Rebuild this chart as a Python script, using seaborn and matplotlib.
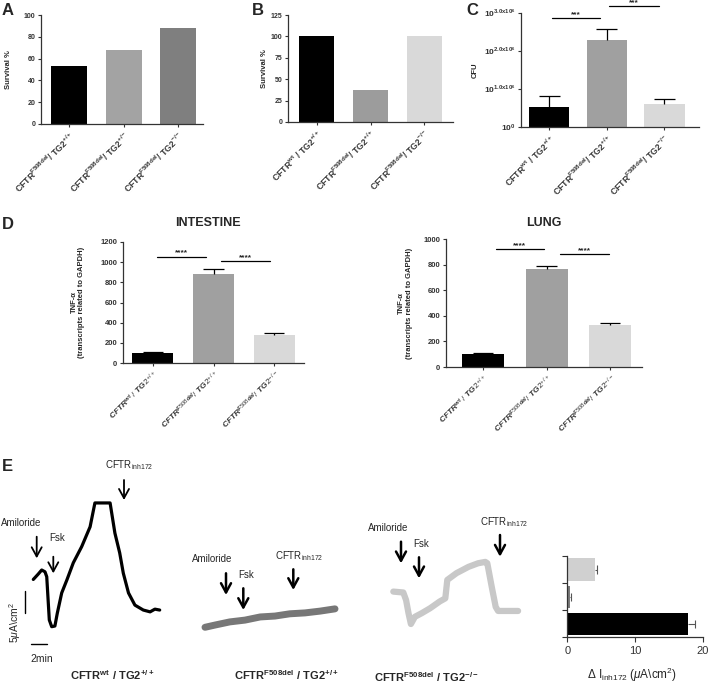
import numpy as np
import pandas as pd
import matplotlib
matplotlib.use('Agg')
import matplotlib.pyplot as plt
import seaborn as sns

# ---------------- data ----------------
groups_A = ['F508del/TG2+/+', 'F508del/TG2+/-', 'F508del/TG2-/-']
survival_A = [53, 68, 88]
labels_A = [r'$\mathbf{CFTR^{F508del}/\ TG2^{+/+}}$',
            r'$\mathbf{CFTR^{F508del}/\ TG2^{+/-}}$',
            r'$\mathbf{CFTR^{F508del}/\ TG2^{-/-}}$']
colors_A = ['#000000', '#a3a3a3', '#7f7f7f']

groups_3 = ['wt/TG2+/+', 'F508del/TG2+/+', 'F508del/TG2-/-']
labels_3 = [r'$\mathbf{CFTR^{wt}\ /\ TG2^{+/+}}$',
            r'$\mathbf{CFTR^{F508del}/\ TG2^{+/+}}$',
            r'$\mathbf{CFTR^{F508del}/\ TG2^{-/-}}$']
labels_3_it = [r'$\mathit{CFTR^{wt}\ /\ TG2^{+/+}}$',
               r'$\mathit{CFTR^{F508del}/\ TG2^{+/+}}$',
               r'$\mathit{CFTR^{F508del}/\ TG2^{-/-}}$']

survival_B = [100, 37, 100]
colors_B = ['#000000', '#9c9c9c', '#d9d9d9']

cfu_C = [0.53, 2.3, 0.61]
cfu_err_C = [0.29, 0.27, 0.12]
cfu_ticklabels = [r'$\mathbf{10^{0}}$', r'$\mathbf{10^{1.0x10^{6}}}$',
                  r'$\mathbf{10^{2.0x10^{6}}}$', r'$\mathbf{10^{3.0x10^{6}}}$']
colors_C = ['#000000', '#a0a0a0', '#d9d9d9']
sig_C = [(0.05, 0.89, 2.86), (1.03, 1.90, 3.18)]

tnf_int = [100, 883, 275]
tnf_int_err = [12, 49, 25]
sig_int = [(0.07, 0.87, 1054), (1.12, 1.93, 1009)]
tnf_lung = [100, 765, 330]
tnf_lung_err = [13, 23, 15]
sig_lung = [(0.2, 0.96, 920), (1.21, 1.98, 880)]
colors_D = ['#000000', '#a0a0a0', '#d9d9d9']

# Ussing chamber traces (time in min, current in uA/cm2)
t_wt = [0, 0.62, 1.05, 1.46, 1.68, 1.8, 2.0, 2.3, 2.7, 3.0, 3.55, 4.2, 5.0, 6.05,
        7.1, 7.7, 9.6, 10.2, 10.8, 11.25, 11.9, 12.7, 13.75, 14.6, 15.2, 15.8]
I_wt = [10.5, 11.7, 12.6, 12.2, 11.1, 7.5, 1.5, 0, 0.15, 3.0, 7.5, 10.4, 14.2, 17.8,
        22.2, 27.5, 27.5, 20.8, 16.4, 11.9, 7.5, 4.8, 3.7, 3.3, 3.9, 3.7]
t_f508 = [0, 1.25, 3.1, 5.0, 6.9, 8.75, 10.6, 12.5, 14.4, 16.25]
I_f508 = [0, 0.5, 1.2, 1.6, 2.3, 2.5, 3.0, 3.2, 3.6, 4.1]
t_ko = [0, 1.25, 1.6, 1.9, 2.2, 2.7, 3.55, 4.6, 5.8, 6.5, 6.75, 7.9, 9.4, 10.6,
        11.5, 11.75, 12.3, 12.8, 13.1, 15.6]
I_ko = [7.2, 7.0, 5.3, 2.4, 0, 1.6, 2.4, 3.5, 5.0, 5.7, 9.8, 11.3, 12.7, 13.5,
        13.8, 13.5, 8.3, 3.8, 2.9, 2.9]

groups_E = ['F508del/TG2-/-', 'F508del/TG2+/+', 'wt/TG2+/+']
dI_E = [4.1, 0.4, 17.9]
dI_err_E = [0.25, 0.1, 1.0]
colors_E = ['#d0d0d0', '#7a7a7a', '#000000']

# ---------------- style ----------------
sns.set_theme(style='ticks')
plt.rcParams['font.family'] = ['Liberation Sans', 'DejaVu Sans']
plt.rcParams['mathtext.fontset'] = 'custom'
plt.rcParams['mathtext.rm'] = 'Liberation Sans'
plt.rcParams['mathtext.bf'] = 'Liberation Sans:bold'
plt.rcParams['mathtext.it'] = 'Liberation Sans:italic:bold'
plt.rcParams['mathtext.sf'] = 'Liberation Sans:italic'
plt.rcParams['axes.linewidth'] = 0.9
plt.rcParams['axes.edgecolor'] = '#333333'
for a in ('xtick', 'ytick'):
    plt.rcParams[f'{a}.major.width'] = 0.8
    plt.rcParams[f'{a}.major.size'] = 2.5
    plt.rcParams[f'{a}.major.pad'] = 1.5
    plt.rcParams[f'{a}.color'] = '#333333'

W, H = 709, 683
fig = plt.figure(figsize=(W / 100, H / 100), dpi=100)


def fx(px):
    return px / W


def fy(py):
    return 1 - py / H


def axpx(l, t, r, b):
    return fig.add_axes([l / W, 1 - b / H, (r - l) / W, (b - t) / H])


def ftext(px, py, s, **kw):
    fig.text(fx(px), fy(py), s, **kw)


def bars(ax, groups, vals, colors, width, labels, lfs=6.3, tfs=5):
    df = pd.DataFrame({'g': groups, 'v': vals})
    sns.barplot(data=df, x='g', y='v', hue='g', palette=colors, legend=False,
                saturation=1, width=width, ax=ax, edgecolor='none', errorbar=None)
    ax.set_xticks(range(len(groups)))
    ax.set_xticklabels(labels, rotation=45, ha='right', rotation_mode='anchor',
                       fontsize=lfs)
    ax.tick_params(axis='y', labelsize=tfs)
    for lab in ax.get_yticklabels():
        lab.set_fontweight('bold')
    ax.set_xlabel('')
    sns.despine(ax=ax)


def errbars(ax, means, errs, half):
    x = np.arange(len(means))
    m = np.array(means)
    e = np.array(errs)
    ax.vlines(x, m, m + e, color='black', lw=0.9)
    ax.hlines(m + e, x - half, x + half, color='black', lw=0.9)


def sig(ax, specs, stars, fs=6):
    for x0, x1, y in specs:
        ax.plot([x0, x1], [y, y], color='black', lw=0.9, clip_on=False)
        ax.text((x0 + x1) / 2, y, stars, ha='center', va='bottom', fontsize=fs,
                fontweight='bold', clip_on=False)


# ---------------- Panel A ----------------
axA = axpx(41, 15, 203, 124)
bars(axA, groups_A, survival_A, colors_A, 0.66, labels_A)
axA.set_xlim(-0.52, 2.45)
axA.set_ylim(0, 100)
axA.set_yticks(range(0, 101, 20))
axA.set_ylabel('Survival %', fontsize=5.5, fontweight='bold')
axA.yaxis.set_label_coords(-0.18, 0.5)

# ---------------- Panel B ----------------
axB = axpx(288, 15, 453, 122)
bars(axB, groups_3, survival_B, colors_B, 0.65, labels_3)
axB.set_xlim(-0.53, 2.53)
axB.set_ylim(0, 125)
axB.set_yticks(range(0, 126, 25))
axB.set_ylabel('Survival %', fontsize=5.5, fontweight='bold')
axB.yaxis.set_label_coords(-0.12, 0.5)

# ---------------- Panel C ----------------
axC = axpx(521, 13, 699, 127)
bars(axC, groups_3, cfu_C, colors_C, 0.7, labels_3)
errbars(axC, cfu_C, cfu_err_C, 0.18)
axC.set_xlim(-0.49, 2.6)
axC.set_ylim(0, 3)
axC.set_yticks([0, 1, 2, 3])
axC.set_yticklabels(cfu_ticklabels, fontsize=6)
axC.set_ylabel('CFU', fontsize=5.5, fontweight='bold')
axC.yaxis.set_label_coords(-0.24, 0.5)
sig(axC, sig_C, '***')

# ---------------- Panel D ----------------
axDi = axpx(123, 242, 304, 363)
bars(axDi, groups_3, tnf_int, colors_D, 0.67, labels_3_it, lfs=6, tfs=5.5)
errbars(axDi, tnf_int, tnf_int_err, 0.165)
axDi.set_xlim(-0.49, 2.49)
axDi.set_ylim(0, 1200)
axDi.set_yticks(range(0, 1201, 200))
axDi.set_ylabel('TNF-α\n(transcripts related to GAPDH)', fontsize=5.5,
                fontweight='bold', linespacing=1.1)
axDi.yaxis.set_label_coords(-0.21, 0.5)
sig(axDi, sig_int, '****')

axDl = axpx(446, 239, 642, 367)
bars(axDl, groups_3, tnf_lung, colors_D, 0.66, labels_3_it, lfs=6, tfs=5.5)
errbars(axDl, tnf_lung, tnf_lung_err, 0.16)
axDl.set_xlim(-0.58, 2.5)
axDl.set_ylim(0, 1000)
axDl.set_yticks(range(0, 1001, 200))
axDl.set_ylabel('TNF-α\n(transcripts related to GAPDH)', fontsize=5.5,
                fontweight='bold', linespacing=1.1)
axDl.yaxis.set_label_coords(-0.17, 0.5)
sig(axDl, sig_lung, '****')

ftext(208, 223, 'INTESTINE', ha='center', va='center', fontsize=9, fontweight='bold')
ftext(544, 223, 'LUNG', ha='center', va='center', fontsize=9, fontweight='bold')

# ---------------- Panel E traces ----------------
PX_MIN, PX_UA = 8.0, 4.5


def trace_ax(l, r, ox, oy, t, I, color, lw):
    ax = axpx(l, 430, r, 670)
    sns.lineplot(x=t, y=I, ax=ax, color=color, lw=lw, sort=False, estimator=None)
    ax.set_xlim((l - ox) / PX_MIN, (r - ox) / PX_MIN)
    ax.set_ylim((oy - 670) / PX_UA, (oy - 430) / PX_UA)
    ax.set_axis_off()
    return ax


ax1 = trace_ax(20, 170, 33.3, 626.7, t_wt, I_wt, 'black', 2.3)
trace_ax(195, 345, 205, 627.3, t_f508, I_f508, '#777777', 5.0)
trace_ax(380, 530, 393.3, 624, t_ko, I_ko, '#c8c8c8', 4.5)

# scale bars (5 uA/cm2, 2 min) in trace-1 data units
ax1.plot([-1.04, -1.04], [2.98, 2.98 + 5], color='black', lw=1.0, clip_on=False)
ax1.plot([-0.33, -0.33 + 2], [-3.84, -3.84], color='black', lw=1.0, clip_on=False)
ftext(15, 623, r'5$\mathsf{\mu}$A\cm$^2$', rotation=90, ha='center', va='center', fontsize=7.5)
ftext(41.7, 658.7, '2min', ha='center', va='center', fontsize=7.5)


def arrow(px, p0, p1, lw):
    ax1.annotate('', xy=(fx(px), fy(p1)), xytext=(fx(px), fy(p0)),
                 xycoords='figure fraction', textcoords='figure fraction',
                 arrowprops=dict(arrowstyle='->,head_length=0.55,head_width=0.3',
                                 lw=lw, color='black', shrinkA=0, shrinkB=0))


inh = r'CFTR$_{\mathrm{inh172}}$'
# trace 1
ftext(0.5, 523, 'Amiloride', ha='left', va='center', fontsize=7)
ftext(56.7, 538.3, 'Fsk', ha='center', va='center', fontsize=7)
ftext(129, 465, inh, ha='center', va='center', fontsize=7)
arrow(36.7, 536.7, 558.3, 1.3)
arrow(53.3, 556.7, 573.3, 1.3)
arrow(124, 480, 500, 1.3)
# trace 2
ftext(212, 559.3, 'Amiloride', ha='center', va='center', fontsize=7)
ftext(245.7, 575, 'Fsk', ha='center', va='center', fontsize=7)
ftext(298.7, 556, inh, ha='center', va='center', fontsize=7)
arrow(226, 573.3, 595, 1.8)
arrow(243.3, 588.3, 610, 1.8)
arrow(293.3, 569.3, 590, 1.8)
# trace 3
ftext(387.8, 528.3, 'Amiloride', ha='center', va='center', fontsize=7)
ftext(421.3, 544, 'Fsk', ha='center', va='center', fontsize=7)
ftext(504, 521.7, inh, ha='center', va='center', fontsize=7)
arrow(401, 541.7, 563.3, 1.8)
arrow(419, 557.3, 578.3, 1.8)
arrow(500, 535, 556.7, 1.8)

ftext(112, 675, labels_3[0], ha='center', va='center', fontsize=8)
ftext(286.7, 675, r'$\mathbf{CFTR^{F508del}\ /\ TG2^{+/+}}$', ha='center', va='center', fontsize=8)
ftext(426.7, 676.7, r'$\mathbf{CFTR^{F508del}\ /\ TG2^{-/-}}$', ha='center', va='center', fontsize=8)

# ---------------- Panel E bar chart ----------------
axE = axpx(567.3, 556, 702.7, 637.3)
dfE = pd.DataFrame({'g': groups_E, 'v': dI_E})
sns.barplot(data=dfE, y='g', x='v', hue='g', palette=colors_E, legend=False,
            saturation=1, width=0.82, orient='h', ax=axE, edgecolor='none', errorbar=None)
yy = np.arange(3)
vv = np.array(dI_E)
ee = np.array(dI_err_E)
axE.hlines(yy, vv, vv + ee, color='#555555', lw=0.8)
axE.vlines(vv + ee, yy - 0.15, yy + 0.15, color='#555555', lw=0.8)
axE.set_xlim(0, 20)
axE.set_ylim(2.5, -0.5)
axE.set_yticks([-0.5, 0.5, 1.5, 2.5])
axE.set_yticklabels([])
axE.set_xticks([0, 10, 20])
axE.tick_params(axis='x', labelsize=8, length=3.5, pad=2.5)
axE.tick_params(axis='y', length=3.5)
axE.set_ylabel('')
axE.set_xlabel('')
sns.despine(ax=axE)
ftext(631.7, 675, r'$\Delta$ I$_{\mathrm{inh172}}$ ($\mathsf{\mu}$A\cm$^{2}$)',
      ha='center', va='center', fontsize=8.5)

# ---------------- panel letters ----------------
for px, py, s in [(2, 3, 'A'), (252, 3, 'B'), (466, 3, 'C'), (2, 217, 'D'), (2, 459, 'E')]:
    ftext(px, py, s, ha='left', va='top', fontsize=12, fontweight='bold')

fig.savefig('out.png', dpi=100)
